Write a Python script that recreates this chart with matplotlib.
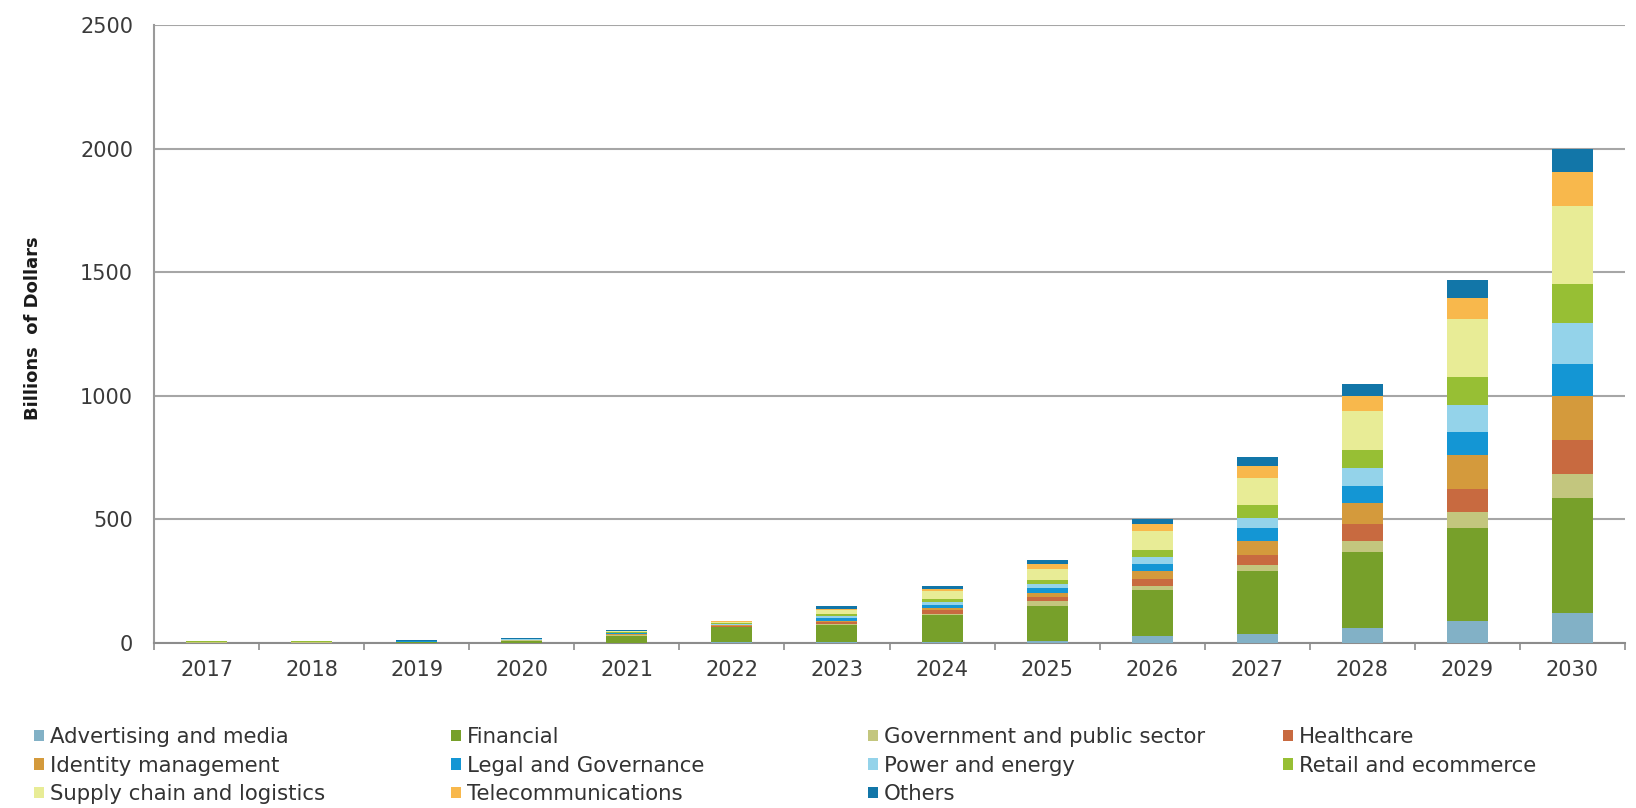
import matplotlib
matplotlib.use("Agg")
import matplotlib.pyplot as plt
import numpy as np

plt.rcParams['font.family'] = ['DejaVu Sans']

years = ["2017", "2018", "2019", "2020", "2021", "2022", "2023", "2024",
         "2025", "2026", "2027", "2028", "2029", "2030"]

advertising = [0.5, 0.5, 0.6, 1, 2, 3, 4, 6, 10, 27, 37, 60, 91, 121]
financial = [1.5, 1.5, 3, 9, 28, 60, 68, 106, 141, 186, 254, 310, 373, 464]
government = [0.3, 0.3, 0.5, 0.6, 1.5, 2, 4, 6, 17, 18, 24, 44, 67, 100]
healthcare = [0.3, 0.3, 0.5, 0.8, 2, 3, 8, 14, 19, 28, 42, 66, 94, 135]
identity = [0.3, 0.3, 0.5, 1, 2, 3, 6, 8, 17, 31, 56, 87, 134, 181]
legal = [1.5, 1.5, 1.2, 1, 3, 3, 10, 14, 17, 29, 51, 67, 94, 128]
power = [1.5, 1.5, 1.5, 1.2, 3, 3, 9, 12, 16, 30, 43, 72, 108, 164]
retail = [0.3, 0.3, 1, 1, 2, 3, 8, 10, 16, 26, 50, 76, 117, 161]
supply = [0.5, 0.5, 0.8, 1.5, 4, 6, 16, 36, 48, 78, 112, 156, 232, 313]
telecom = [0.3, 0.3, 0.4, 0.6, 1.5, 2, 4, 5, 19, 27, 45, 61, 84, 139]
others = [1.5, 1.5, 1, 1, 2, 2, 11, 12, 15, 20, 38, 49, 74, 94]

series_names = ["Advertising and media", "Financial", "Government and public sector",
                "Healthcare", "Identity management", "Legal and Governance",
                "Power and energy", "Retail and ecommerce", "Supply chain and logistics",
                "Telecommunications", "Others"]
series_values = [advertising, financial, government, healthcare, identity, legal,
                 power, retail, supply, telecom, others]
colors = ["#82b1c6", "#77a02a", "#c3c67e", "#c86a40", "#d49a3c", "#1496d4",
          "#94d3ea", "#97bf34", "#e8ec96", "#f8b84c", "#1276a8"]

W, H = 1636, 808
fig = plt.figure(figsize=(W / 100, H / 100), dpi=100)
ax_left, ax_right, ax_top, ax_bottom = 154, 1625, 25, 643
ax = fig.add_axes([ax_left / W, 1 - ax_bottom / H, (ax_right - ax_left) / W,
                   (ax_bottom - ax_top) / H])

x = np.arange(len(years))
bottom = np.zeros(len(years))
handles = []
for name, vals, c in zip(series_names, series_values, colors):
    v = np.array(vals, dtype=float)
    b = ax.bar(x, v, bottom=bottom, width=0.39, color=c, label=name, zorder=3)
    handles.append(b)
    bottom += v

ax.set_xlim(-0.5, len(years) - 0.5)
ax.set_ylim(0, 2500)
ax.set_yticks([0, 500, 1000, 1500, 2000, 2500])
ax.yaxis.grid(True, color="#a6a6a6", linewidth=1.5, zorder=0)
ax.set_axisbelow(True)
ax.set_xticks(x)
ax.set_xticklabels(years)
ax.set_xticks(np.arange(-0.5, len(years), 1.0), minor=True)
ax.tick_params(axis='x', which='major', length=0, pad=12, labelsize=15, labelcolor="#3a3a3a")
ax.tick_params(axis='x', which='minor', length=5, width=1.2, color="#8c8c8c", direction='out')
ax.tick_params(axis='y', length=0, pad=15, labelsize=15, labelcolor="#3a3a3a")

for s in ["top", "right"]:
    ax.spines[s].set_visible(False)
ax.spines["left"].set_color("#9a9a9a")
ax.spines["left"].set_linewidth(1.5)
ax.spines["bottom"].set_color("#8c8c8c")
ax.spines["bottom"].set_linewidth(1.5)

ax.set_ylabel("Billions  of Dollars", fontsize=13, fontweight='bold', color="#1a1a1a")
ax.yaxis.set_label_coords(-0.076, 0.51)

# legend: 4 columns filled row by row, each column placed at its own x
ncols = 4
col_x = [34, 451, 868, 1283]
for ci in range(ncols):
    idx = list(range(ci, len(series_names), ncols))
    fig.legend([handles[i] for i in idx], [series_names[i] for i in idx],
               loc='upper left', bbox_to_anchor=(col_x[ci] / W, 1 - 727 / H),
               ncol=1, frameon=False, fontsize=15.3, handlelength=0.48,
               handleheight=0.48, handletextpad=0.25, labelspacing=0.40,
               borderaxespad=0, borderpad=0, labelcolor="#333333")

fig.savefig("out.png", dpi=100, facecolor="white")
